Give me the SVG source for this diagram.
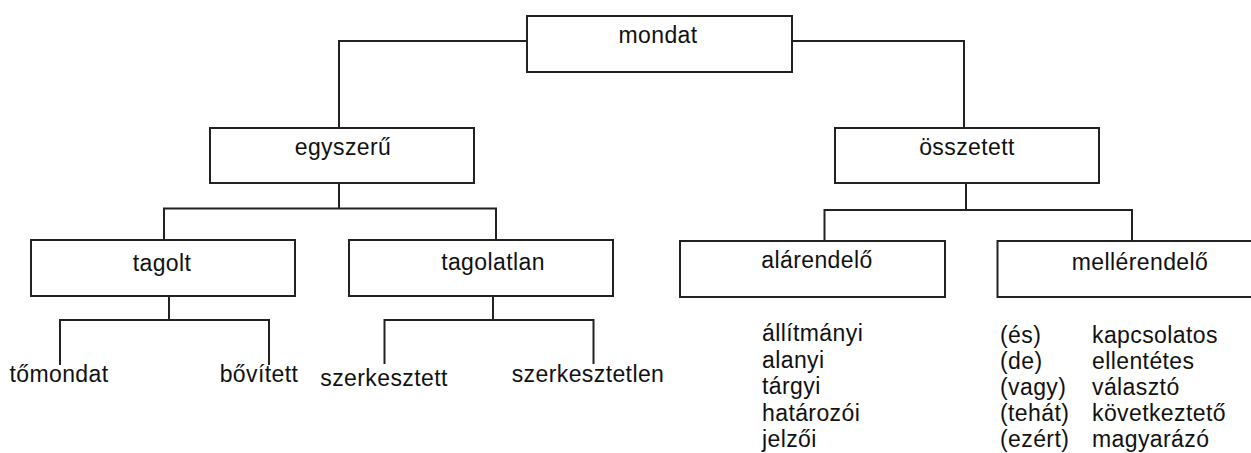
<svg xmlns="http://www.w3.org/2000/svg" width="1251" height="453" viewBox="0 0 1251 453">
<style>
.box{fill:#fff;stroke:#222;stroke-width:2}
.con{fill:none;stroke:#222;stroke-width:2}
text{font-family:"Liberation Sans",Arial,sans-serif;font-size:23px;fill:#111;letter-spacing:0.4px}
.c{text-anchor:middle}
</style>
<rect x="0" y="0" width="1251" height="453" fill="#fff"/>
<g id="connectors">
<path class="con" d="M339,128 V41 H527 M792,41 H964 V128"/>
<path class="con" d="M339,183 V208.5 M164,240 V208.5 H496 V240"/>
<path class="con" d="M966,183 V210 M824.5,241 V210 H1132 V241"/>
<path class="con" d="M169,296 V320 M60,365 V320 H269 V365"/>
<path class="con" d="M493,296 V320 M384.5,364 V320 H593.5 V364"/>
</g>
<g id="mondat"><rect class="box" x="527" y="16" width="265" height="56"/><text class="c" x="658" y="43">mondat</text></g>
<g id="egyszeru"><rect class="box" x="210" y="128" width="264" height="55"/><text class="c" x="343" y="155">egyszerű</text></g>
<g id="osszetett"><rect class="box" x="835" y="128" width="264" height="55"/><text class="c" x="967" y="155">összetett</text></g>
<g id="tagolt"><rect class="box" x="31" y="240" width="264" height="56"/><text class="c" x="162" y="271">tagolt</text></g>
<g id="tagolatlan"><rect class="box" x="349" y="240" width="264" height="56"/><text class="c" x="493" y="270">tagolatlan</text></g>
<g id="alarendelo"><rect class="box" x="680" y="241" width="265" height="56"/><text class="c" x="817" y="268">alárendelő</text></g>
<g id="mellerendelo"><rect class="box" x="997.5" y="241" width="265" height="56"/><text class="c" x="1140" y="270">mellérendelő</text></g>
<g id="tomondat"><text class="c" x="59" y="382">tőmondat</text></g>
<g id="bovitett"><text class="c" x="259" y="382">bővített</text></g>
<g id="szerkesztett"><text class="c" x="384" y="385.5">szerkesztett</text></g>
<g id="szerkesztetlen"><text class="c" x="588" y="381.5">szerkesztetlen</text></g>
<g id="alarendelo-list">
<text x="762" y="341">állítmányi</text>
<text x="762" y="367.5">alanyi</text>
<text x="762" y="394">tárgyi</text>
<text x="762" y="420.5">határozói</text>
<text x="762" y="447">jelzői</text>
</g>
<g id="mellerendelo-list">
<text x="1000" y="343">(és)</text>
<text x="1000" y="369">(de)</text>
<text x="1000" y="395">(vagy)</text>
<text x="1000" y="421">(tehát)</text>
<text x="1000" y="447">(ezért)</text>
<text x="1092" y="343">kapcsolatos</text>
<text x="1092" y="369">ellentétes</text>
<text x="1092" y="395">választó</text>
<text x="1092" y="421">következtető</text>
<text x="1092" y="447">magyarázó</text>
</g>
</svg>
